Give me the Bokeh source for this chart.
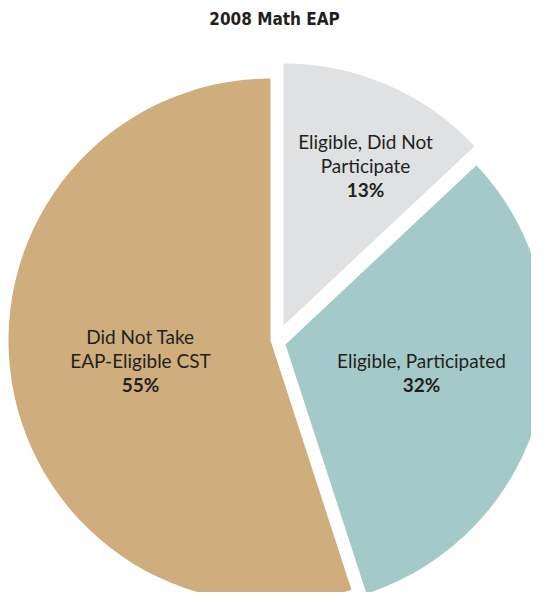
import math
from bokeh.plotting import figure
from bokeh.models import ColumnDataSource, Range1d
from bokeh.core.properties import value
from bokeh.embed import file_html
from bokeh.resources import INLINE

# ---- data ----
title_text = "2008 Math EAP"
categories = ["Eligible, Did Not Participate", "Eligible, Participated", "Did Not Take EAP-Eligible CST"]
label_lines = [["Eligible, Did Not", "Participate"], ["Eligible, Participated"], ["Did Not Take", "EAP-Eligible CST"]]
shares = [13, 32, 55]

# ---- style / layout ----
colors = ["#e0e1e3", "#a3cac8", "#cfad7c"]
W, H = 531, 592
cx, cy, R = 270, 252, 262
explode = [(13, 15), (15, -4), (0, 0)]          # per-slice offset (px)
label_pos = [(365, 451), (421, 232.5), (140, 256)]  # first-line baseline
line_gap = 24
text_color = "#231f20"
label_font = "Lato"
label_size = "19px"

total = sum(shares)
starts, ends, xs, ys = [], [], [], []
cum = 0.0
for s, (dx, dy) in zip(shares, explode):
    a0 = math.pi / 2 - 2 * math.pi * cum / total
    cum += s
    a1 = math.pi / 2 - 2 * math.pi * cum / total
    starts.append(a0)
    ends.append(a1)
    xs.append(cx + dx)
    ys.append(cy + dy)

wedges = ColumnDataSource(dict(x=xs, y=ys, start=starts, end=ends, color=colors, cat=categories, share=shares))

p = figure(width=W, height=H, x_range=Range1d(0, W), y_range=Range1d(0, H),
           output_backend="svg", toolbar_location=None, min_border=0,
           background_fill_color="white", border_fill_color="white")
p.axis.visible = False
p.xgrid.visible = False
p.ygrid.visible = False
p.outline_line_color = None

p.wedge(x="x", y="y", radius=R, start_angle="start", end_angle="end", direction="clock",
        fill_color="color", line_color=None, source=wedges)

# labels
nx, ny, nt = [], [], []
px, py, pt = [], [], []
for lines, s, (lx, ly) in zip(label_lines, shares, label_pos):
    for k, ln in enumerate(lines):
        nx.append(lx)
        ny.append(ly - k * line_gap)
        nt.append(ln)
    px.append(lx)
    py.append(ly - len(lines) * line_gap)
    pt.append(f"{s}%")

p.text(x=nx, y=ny, text=nt, text_font=value(label_font), text_font_size=label_size,
       text_color=text_color, text_align="center", text_baseline="alphabetic")
p.text(x=px, y=py, text=pt, text_font=value(label_font), text_font_size=label_size,
       text_font_style="bold", text_color=text_color, text_align="center", text_baseline="alphabetic")

# title
p.text(x=[274], y=[574], text=[title_text], text_font=value("'DejaVu Sans Condensed', 'Liberation Sans Narrow', Roboto, sans-serif"),
       text_font_size="17px", text_font_style="bold", text_color="#231f20",
       text_align="center", text_baseline="alphabetic")

open("out.html", "w").write(file_html(p, INLINE))
